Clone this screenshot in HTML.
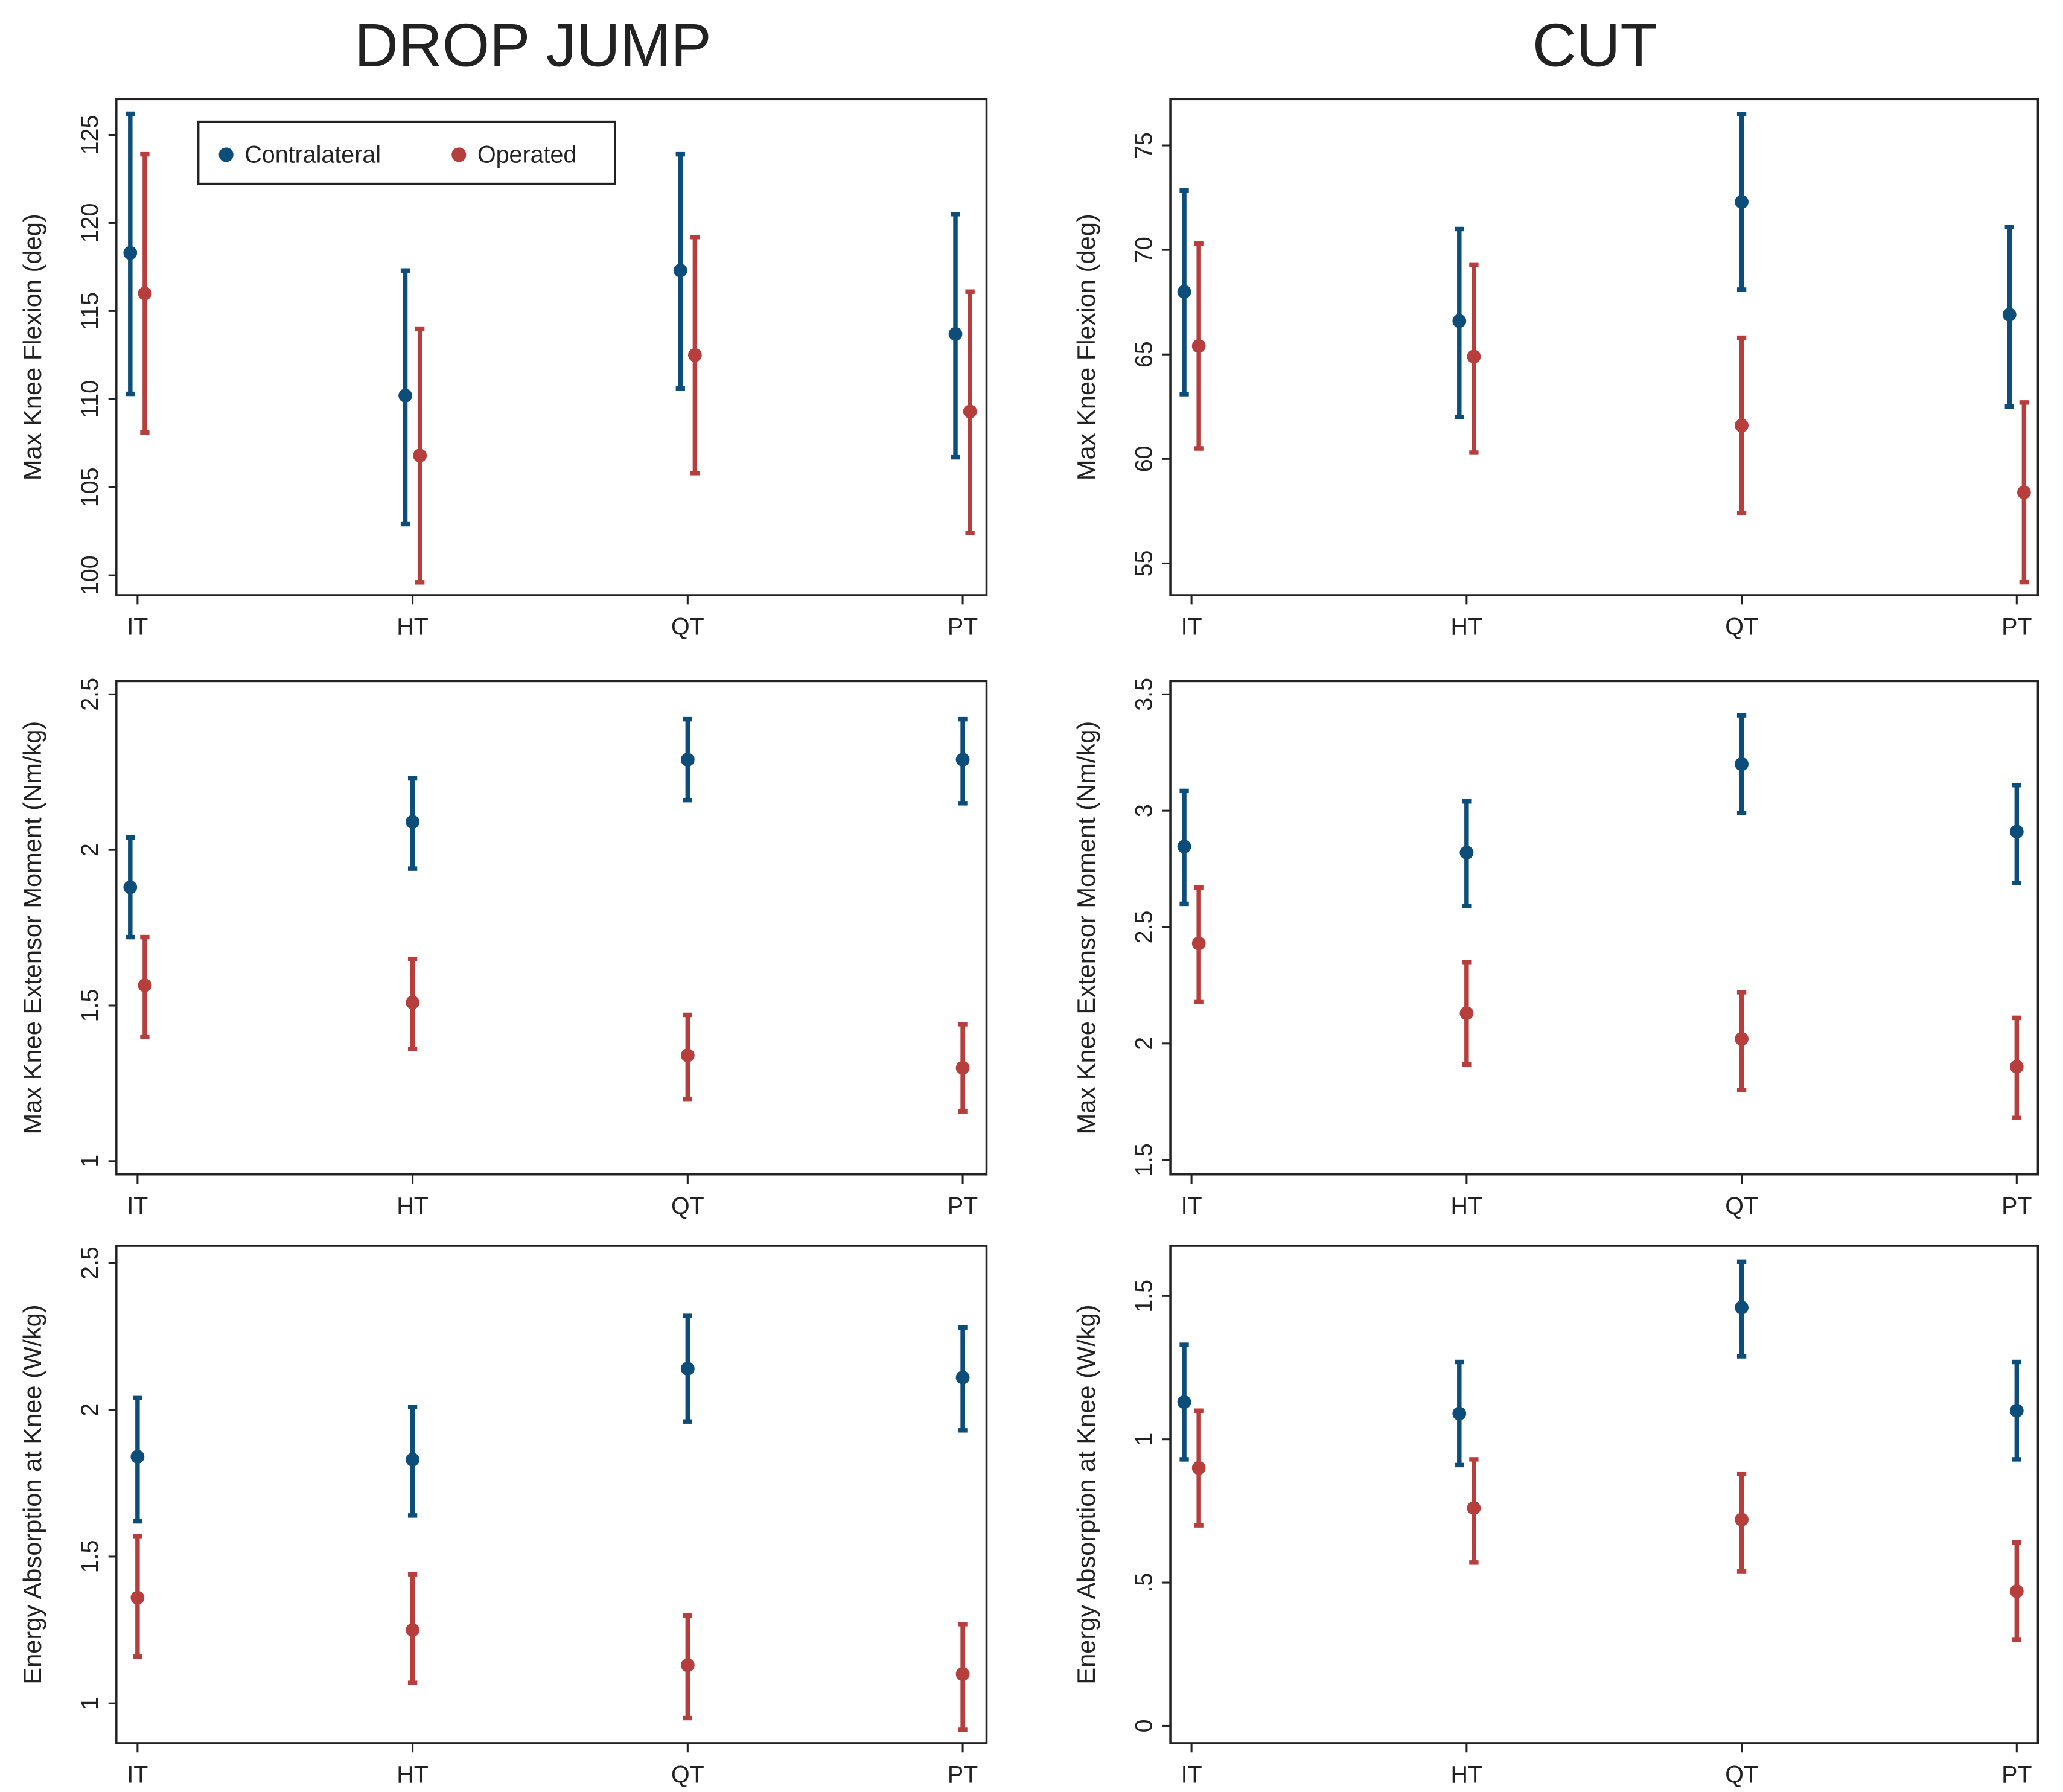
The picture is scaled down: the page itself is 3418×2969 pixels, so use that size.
<!DOCTYPE html>
<html><head><meta charset="utf-8">
<style>
html,body{margin:0;padding:0;background:#fff;}
svg{display:block;}
text{font-family:"Liberation Sans",Arial,sans-serif;fill:#222;}
</style></head>
<body>
<svg id="fig" width="3418" height="2969" viewBox="0 0 1560 1355" preserveAspectRatio="none" xmlns="http://www.w3.org/2000/svg">
<rect x="0" y="0" width="1560" height="1355" fill="#fff"/>
<text x="403" y="50" font-size="46" text-anchor="middle">DROP JUMP</text>
<text x="1206" y="50" font-size="46" text-anchor="middle">CUT</text>
</svg>
<script>
const categories = ["IT","HT","QT","PT"];
// Row 1: Max Knee Flexion
const djFlexBlue = [118.3,110.2,117.3,113.7];
const djFlexBlueLo = [110.3,102.9,110.6,106.7];
const djFlexBlueHi = [126.2,117.3,123.9,120.5];
const djFlexRed = [116.0,106.8,112.5,109.3];
const djFlexRedLo = [108.1,99.6,105.8,102.4];
const djFlexRedHi = [123.9,114.0,119.2,116.1];
const cutFlexBlue = [68.0,66.6,72.3,66.9];
const cutFlexBlueLo = [63.1,62.0,68.1,62.5];
const cutFlexBlueHi = [72.85,71.0,76.5,71.1];
const cutFlexRed = [65.4,64.9,61.6,58.4];
const cutFlexRedLo = [60.5,60.3,57.4,54.1];
const cutFlexRedHi = [70.3,69.3,65.8,62.7];
// Row 2: Max Knee Extensor Moment
const djMomBlue = [1.88,2.09,2.29,2.29];
const djMomBlueLo = [1.72,1.94,2.16,2.15];
const djMomBlueHi = [2.04,2.23,2.42,2.42];
const djMomRed = [1.565,1.51,1.34,1.30];
const djMomRedLo = [1.40,1.36,1.20,1.16];
const djMomRedHi = [1.72,1.65,1.47,1.44];
const cutMomBlue = [2.846,2.82,3.2,2.91];
const cutMomBlueLo = [2.6,2.59,2.99,2.69];
const cutMomBlueHi = [3.085,3.04,3.41,3.11];
const cutMomRed = [2.43,2.13,2.02,1.90];
const cutMomRedLo = [2.18,1.91,1.80,1.68];
const cutMomRedHi = [2.67,2.35,2.22,2.11];
// Row 3: Energy Absorption
const djEnBlue = [1.84,1.83,2.14,2.11];
const djEnBlueLo = [1.62,1.64,1.96,1.93];
const djEnBlueHi = [2.04,2.01,2.32,2.28];
const djEnRed = [1.36,1.25,1.13,1.10];
const djEnRedLo = [1.16,1.07,0.95,0.91];
const djEnRedHi = [1.57,1.44,1.30,1.27];
const cutEnBlue = [1.13,1.09,1.46,1.10];
const cutEnBlueLo = [0.93,0.91,1.29,0.93];
const cutEnBlueHi = [1.33,1.27,1.62,1.27];
const cutEnRed = [0.90,0.76,0.72,0.47];
const cutEnRedLo = [0.70,0.57,0.54,0.30];
const cutEnRedHi = [1.10,0.93,0.88,0.64];
// tick labels
const ticksFlexDJ = [100,105,110,115,120,125];
const ticksFlexCut = [55,60,65,70,75];
const ticksMomDJ = [1,1.5,2,2.5];
const ticksMomCut = [1.5,2,2.5,3,3.5];
const ticksEnDJ = [1,1.5,2,2.5];
const ticksEnCut = [0,0.5,1,1.5];
const fmt = v => { let s = String(v); if (s.startsWith("0.")) s = s.slice(1); return s; };

const NS = "http://www.w3.org/2000/svg";
const svg = document.getElementById("fig");
const BLUE = "#0c4d7a", RED = "#b63e3d";
function mk(tag, attrs, parent){ const e=document.createElementNS(NS,tag); for(const k in attrs) e.setAttribute(k,attrs[k]); (parent||svg).appendChild(e); return e; }

const panels = [
 {name:"dj-flexion", x0:88,x1:746,y0:75,y1:450, cx:[104,312,520,728], vTop:125,pTop:102,vBot:100,pBot:435, ticks:ticksFlexDJ, title:"Max Knee Flexion (deg)", off:[1,1,1,1],
  b:[djFlexBlue,djFlexBlueLo,djFlexBlueHi], r:[djFlexRed,djFlexRedLo,djFlexRedHi]},
 {name:"cut-flexion", x0:885,x1:1541,y0:75,y1:450, cx:[901,1109,1317,1525], vTop:75,pTop:110,vBot:55,pBot:426, ticks:ticksFlexCut, title:"Max Knee Flexion (deg)", off:[1,1,0,1],
  b:[cutFlexBlue,cutFlexBlueLo,cutFlexBlueHi], r:[cutFlexRed,cutFlexRedLo,cutFlexRedHi]},
 {name:"dj-moment", x0:88,x1:746,y0:515,y1:888, cx:[104,312,520,728], vTop:2.5,pTop:525,vBot:1,pBot:878, ticks:ticksMomDJ, title:"Max Knee Extensor Moment (Nm/kg)", off:[1,0,0,0],
  b:[djMomBlue,djMomBlueLo,djMomBlueHi], r:[djMomRed,djMomRedLo,djMomRedHi]},
 {name:"cut-moment", x0:885,x1:1541,y0:515,y1:888, cx:[901,1109,1317,1525], vTop:3.5,pTop:525,vBot:1.5,pBot:877, ticks:ticksMomCut, title:"Max Knee Extensor Moment (Nm/kg)", off:[1,0,0,0],
  b:[cutMomBlue,cutMomBlueLo,cutMomBlueHi], r:[cutMomRed,cutMomRedLo,cutMomRedHi]},
 {name:"dj-energy", x0:88,x1:746,y0:942,y1:1318, cx:[104,312,520,728], vTop:2.5,pTop:955,vBot:1,pBot:1288, ticks:ticksEnDJ, title:"Energy Absorption at Knee (W/kg)", off:[0,0,0,0],
  b:[djEnBlue,djEnBlueLo,djEnBlueHi], r:[djEnRed,djEnRedLo,djEnRedHi]},
 {name:"cut-energy", x0:885,x1:1541,y0:942,y1:1318, cx:[901,1109,1317,1525], vTop:1.5,pTop:980,vBot:0,pBot:1305, ticks:ticksEnCut, title:"Energy Absorption at Knee (W/kg)", off:[1,1,0,0],
  b:[cutEnBlue,cutEnBlueLo,cutEnBlueHi], r:[cutEnRed,cutEnRedLo,cutEnRedHi]},
];

panels.forEach(p=>{
  const g = mk("g",{});
  
  
  const y = v => p.pBot + (v - p.vBot) * (p.pTop - p.pBot) / (p.vTop - p.vBot);
  const box = mk("rect",{x:p.x0,y:p.y0,width:p.x1-p.x0,height:p.y1-p.y0,fill:"#fff",stroke:"#222","stroke-width":1.6},g);
  
  
  p.ticks.forEach(t=>{
    const ty=y(t);
    mk("line",{x1:p.x0-6,x2:p.x0,y1:ty,y2:ty,stroke:"#222","stroke-width":1.4},g);
    const tx=p.x0-14;
    const lab=mk("text",{x:tx,y:ty,"font-size":18,"text-anchor":"middle",transform:`rotate(-90 ${tx} ${ty})`},g);
    lab.textContent=fmt(t);
    
    
  });
  const ax=p.x0-57, ay=(p.y0+p.y1)/2;
  const at=mk("text",{x:ax,y:ay,"font-size":19,"text-anchor":"middle",transform:`rotate(-90 ${ax} ${ay})`},g);
  at.textContent=p.title;
  
  
  categories.forEach((c,i)=>{
    const cx=p.cx[i];
    mk("line",{x1:cx,x2:cx,y1:p.y1,y2:p.y1+7,stroke:"#222","stroke-width":1.4},g);
    const xl=mk("text",{x:cx,y:p.y1+30,"font-size":18,"text-anchor":"middle"},g);
    xl.textContent=c;
    
    
    [[p.b,BLUE,-1,'contralateral'],[p.r,RED,1,'operated']].forEach(([s,col,sgn,nm])=>{
      const x=cx+sgn*5.5*p.off[i];
      const eg=mk("g",{},g);
      
      
      const yl=y(s[1][i]), yh=y(s[2][i]), ym=y(s[0][i]);
      mk("line",{x1:x,x2:x,y1:yl,y2:yh,stroke:col,"stroke-width":3.4},eg);
      mk("line",{x1:x-3.5,x2:x+3.5,y1:yh,y2:yh,stroke:col,"stroke-width":3.4},eg);
      mk("line",{x1:x-3.5,x2:x+3.5,y1:yl,y2:yl,stroke:col,"stroke-width":3.4},eg);
      const pt=mk("circle",{cx:x,cy:ym,r:5.2,fill:col},eg);
      
      
    });
  });
});

// legend
const lg = mk("g",{});


mk("rect",{x:150,y:92,width:315,height:47,fill:"#fff",stroke:"#222","stroke-width":1.6},lg);
const l1=mk("g",{},lg);


mk("circle",{cx:171,cy:117,r:5.5,fill:BLUE},l1);
const t1=mk("text",{x:185,y:123,"font-size":18},l1); t1.textContent="Contralateral";
const l2=mk("g",{},lg);


mk("circle",{cx:347,cy:117,r:5.5,fill:RED},l2);
const t2=mk("text",{x:361,y:123,"font-size":18},l2); t2.textContent="Operated";
</script>
</body></html>
